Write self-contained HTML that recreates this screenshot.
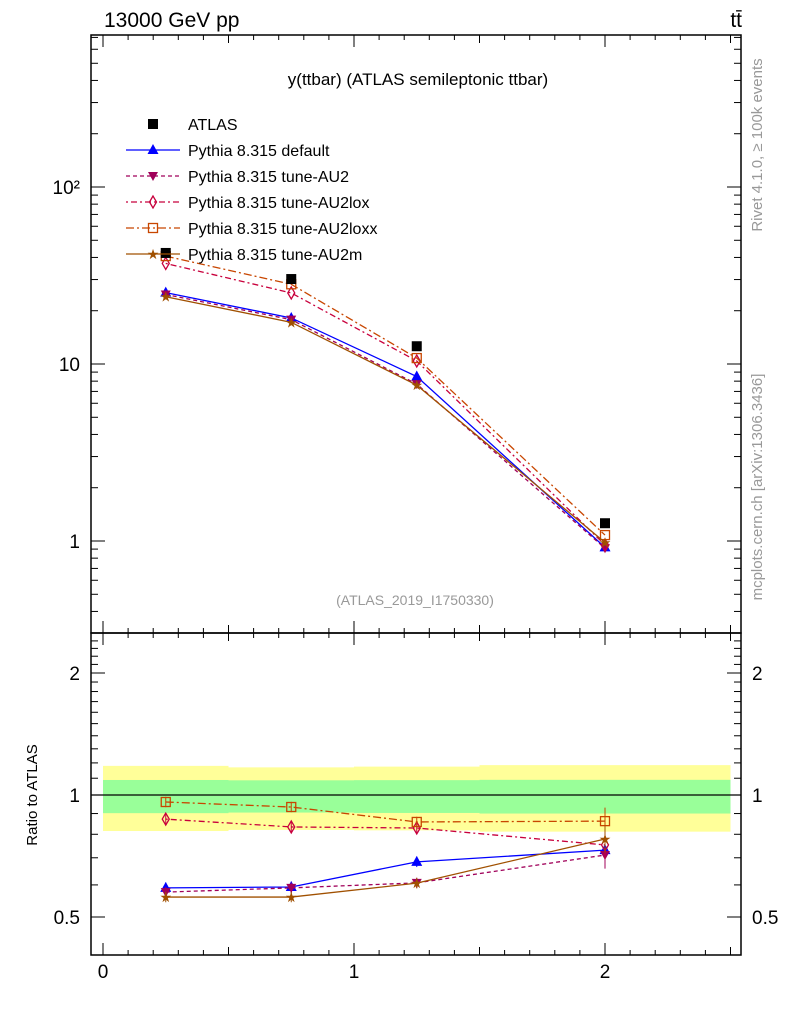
<!DOCTYPE html>
<html><head><meta charset="utf-8"><style>
body{margin:0;background:#fff}
svg text{font-family:"Liberation Sans",sans-serif}
</style></head><body>
<svg id="c" width="786" height="1024" xmlns="http://www.w3.org/2000/svg"></svg>
<script>
const xCenters=[0.25,0.75,1.25,2.0];
const xEdges=[0,0.5,1,1.5,2.5];
const atlasVals=[42.4,30.2,12.6,1.26];
const defaultVals=[25.3,18.2,8.5,0.92];
const au2Vals=[24.7,17.8,7.7,0.91];
const loxVals=[37,25.2,10.4,0.95];
const loxxVals=[40.7,28.2,10.8,1.08];
const mVals=[24,17.2,7.6,0.98];
const defaultRatio=[0.59,0.593,0.684,0.731];
const au2Ratio=[0.576,0.59,0.607,0.711];
const loxRatio=[0.872,0.834,0.829,0.753];
const loxxRatio=[0.961,0.934,0.858,0.862];
const mRatio=[0.56,0.56,0.606,0.779];
const greenUp=[1.089,1.087,1.088,1.09];
const greenDn=[0.902,0.905,0.903,0.9];
const yellowUp=[1.18,1.17,1.175,1.185];
const yellowDn=[0.815,0.82,0.818,0.812];
const xTicks=[0,1,2];
const yTicks=[1,10,100];
const yTickLabels=["1","10","10²"];
const rTicks=[0.5,1,2];
const rTickLabels=["0.5","1","2"];

const S=document.getElementById('c');const NS='http://www.w3.org/2000/svg';
function el(t,a,p){const e=document.createElementNS(NS,t);for(const k in a)e.setAttribute(k,a[k]);(p||S).appendChild(e);return e;}
const L=91,R=741,T=35,M=633,B=955;
const X=v=>103+251*v;
const Y=v=>541-177*Math.log10(v);
const YR=v=>795-405.3*Math.log10(v);

for(let i=0;i<4;i++){
 let y1=el('rect',{x:X(xEdges[i]),y:YR(yellowUp[i]),width:X(xEdges[i+1])-X(xEdges[i]),height:YR(yellowDn[i])-YR(yellowUp[i]),fill:'#ffff99'});
 
 
 let g1=el('rect',{x:X(xEdges[i]),y:YR(greenUp[i]),width:X(xEdges[i+1])-X(xEdges[i]),height:YR(greenDn[i])-YR(greenUp[i]),fill:'#99ff99'});
 
 
}
el('line',{x1:L,x2:R,y1:YR(1),y2:YR(1),stroke:'#000','stroke-width':1.2});

let f1=el('rect',{x:L,y:T,width:R-L,height:M-T,fill:'none',stroke:'#000','stroke-width':1.5});

let f2=el('rect',{x:L,y:M,width:R-L,height:B-M,fill:'none',stroke:'#000','stroke-width':1.5});


for(let v=0;v<=2.5001;v+=0.1){
 const big=Math.abs(v-Math.round(v))<1e-6;const mid=Math.abs(v*2-Math.round(v*2))<1e-6;
 const len=big?12:(mid?8:5);
 for(const [y0,d] of [[B,-1],[M,-1],[M,1],[T,1]]){el('line',{x1:X(v),x2:X(v),y1:y0,y2:y0+d*len,stroke:'#000'});}
}
xTicks.forEach(v=>{let t=el('text',{x:X(v),y:978,'font-size':19,'text-anchor':'middle'});t.textContent=v;});
for(let d=-1;d<=2;d++)for(let k=1;k<10;k++){const v=k*Math.pow(10,d);const y=Y(v);if(y<T||y>M)continue;const len=k==1?14:7;
 el('line',{x1:L,x2:L+len,y1:y,y2:y,stroke:'#000'});el('line',{x1:R,x2:R-len,y1:y,y2:y,stroke:'#000'});}
yTicks.forEach((v,i)=>{let t=el('text',{x:80,y:Y(v)+7,'font-size':19,'text-anchor':'end'});t.textContent=yTickLabels[i];});
for(let v=0.5;v<=2.5;v+=0.1){const y=YR(v);if(y<M||y>B)continue;const big=[0.5,1,2].some(z=>Math.abs(z-v)<1e-6);const len=big?14:7;
 el('line',{x1:L,x2:L+len,y1:y,y2:y,stroke:'#000'});el('line',{x1:R,x2:R-len,y1:y,y2:y,stroke:'#000'});}
rTicks.forEach((v,i)=>{let t=el('text',{x:80,y:YR(v)+7,'font-size':19,'text-anchor':'end'});t.textContent=rTickLabels[i];
 let t2=el('text',{x:752,y:YR(v)+7,'font-size':19});t2.textContent=rTickLabels[i];});

function marker(type,x,y,c,g){
 if(type=='sq')el('rect',{x:x-5,y:y-5,width:10,height:10,fill:c},g);
 else if(type=='osq')el('rect',{x:x-4.5,y:y-4.5,width:9,height:9,fill:'none',stroke:c,'stroke-width':1.3},g);
 else if(type=='tri')el('polygon',{points:`${x},${y-6} ${x-5.5},${y+4} ${x+5.5},${y+4}`,fill:c},g);
 else if(type=='itri')el('polygon',{points:`${x},${y+5} ${x-5},${y-4} ${x+5},${y-4}`,fill:c},g);
 else if(type=='dia')el('polygon',{points:`${x},${y-6} ${x-3.5},${y} ${x},${y+6} ${x+3.5},${y}`,fill:'none',stroke:c,'stroke-width':1.3},g);
 else if(type=='star')el('text',{x:x,y:y+5,'font-size':14,'text-anchor':'middle',fill:c},g).textContent='★';
}
const series=[
 {n:'default',c:'#0000ff',d:'',m:'tri',v:defaultVals,r:defaultRatio},
 {n:'au2',c:'#a0005a',d:'4,3',m:'itri',v:au2Vals,r:au2Ratio},
 {n:'au2lox',c:'#c8003c',d:'2,3,6,3',m:'dia',v:loxVals,r:loxRatio},
 {n:'au2loxx',c:'#c84600',d:'8,3,2,3',m:'osq',v:loxxVals,r:loxxRatio},
 {n:'au2m',c:'#a05000',d:'',m:'star',v:mVals,r:mRatio}];
series.forEach(s=>{
 const g=el('g',{});
 el('polyline',{points:xCenters.map((x,i)=>X(x)+','+Y(s.v[i])).join(' '),fill:'none',stroke:s.c,'stroke-width':1.3,'stroke-dasharray':s.d},g);
 xCenters.forEach((x,i)=>marker(s.m,X(x),Y(s.v[i]),s.c,g));
 const g2=el('g',{});
 el('polyline',{points:xCenters.map((x,i)=>X(x)+','+YR(s.r[i])).join(' '),fill:'none',stroke:s.c,'stroke-width':1.3,'stroke-dasharray':s.d},g2);
 xCenters.forEach((x,i)=>{const e=i==3?1.08:1.03;el('line',{x1:X(x),x2:X(x),y1:YR(s.r[i]*e),y2:YR(s.r[i]/e),stroke:s.c},g2);marker(s.m,X(x),YR(s.r[i]),s.c,g2);});
});
const ga=el('g',{});
xCenters.forEach((x,i)=>marker('sq',X(x),Y(atlasVals[i]),'#000',ga));

const leg=[['ATLAS','#000','','sq'],['Pythia 8.315 default','#0000ff','','tri'],['Pythia 8.315 tune-AU2','#a0005a','4,3','itri'],['Pythia 8.315 tune-AU2lox','#c8003c','2,3,6,3','dia'],['Pythia 8.315 tune-AU2loxx','#c84600','8,3,2,3','osq'],['Pythia 8.315 tune-AU2m','#a05000','','star']];
leg.forEach((l,i)=>{const y=124+i*26;const g=el('g',{});
 if(i>0)el('line',{x1:126,x2:180,y1:y,y2:y,stroke:l[1],'stroke-width':1.3,'stroke-dasharray':l[2]},g);
 marker(l[3],153,y,l[1],g);
 el('text',{x:188,y:y+6,'font-size':16},g).textContent=l[0];});

function txt(s,a,name){const t=el('text',a);t.textContent=s;return t;}
txt('13000 GeV pp',{x:104,y:27,'font-size':21},'energy-label');
txt('tt̄',{x:742,y:27,'font-size':21,'text-anchor':'end'},'process-label');
txt('y(ttbar) (ATLAS semileptonic ttbar)',{x:418,y:85,'font-size':17,'text-anchor':'middle'},'plot-title');
txt('(ATLAS_2019_I1750330)',{x:415,y:605,'font-size':14,fill:'#999','text-anchor':'middle'},'analysis-id');
txt('Ratio to ATLAS',{x:37,y:795,'font-size':15,'text-anchor':'middle',transform:'rotate(-90 37 795)'},'ratio-axis-title');
txt('Rivet 4.1.0, ≥ 100k events',{x:762,y:145,'font-size':15,fill:'#999','text-anchor':'middle',transform:'rotate(-90 762 145)'},'rivet-label');
txt('mcplots.cern.ch [arXiv:1306.3436]',{x:762,y:487,'font-size':15,fill:'#999','text-anchor':'middle',transform:'rotate(-90 762 487)'},'mcplots-label');
</script>
</body></html>
